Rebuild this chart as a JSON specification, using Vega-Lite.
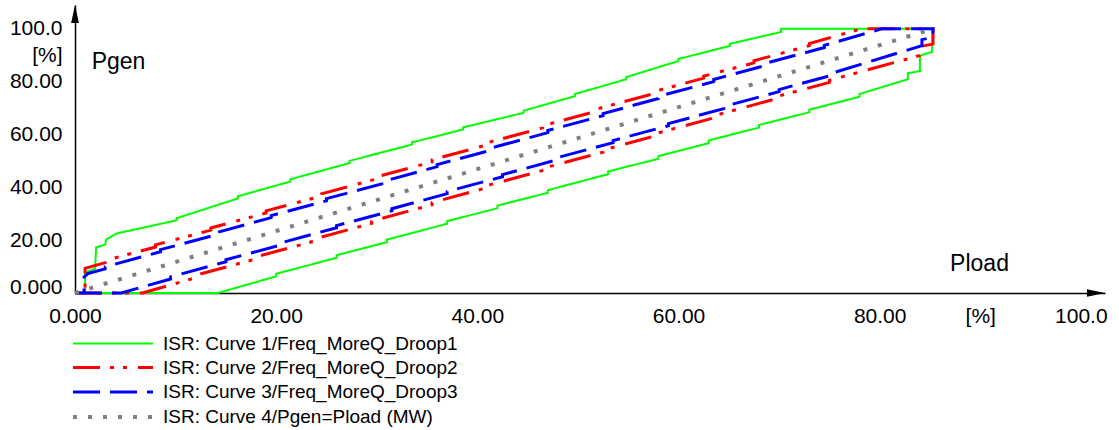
{
  "$schema": "https://vega.github.io/schema/vega-lite/v6.json",
  "width": 1030,
  "height": 288,
  "autosize": {"type": "none"},
  "padding": {"left": 75, "top": 5, "right": 14, "bottom": 137},
  "background": "white",
  "config": {
    "view": {"stroke": null},
    "font": "Liberation Sans, Arial, sans-serif"
  },
  "layer": [
    {
      "data": {
        "values": [
          {"curve": "ISR: Curve 1/Freq_MoreQ_Droop1", "o": 1, "x": 0, "y": 0},
          {"curve": "ISR: Curve 1/Freq_MoreQ_Droop1", "o": 2, "x": 14.2, "y": 0},
          {"curve": "ISR: Curve 1/Freq_MoreQ_Droop1", "o": 3, "x": 20, "y": 6.3},
          {"curve": "ISR: Curve 1/Freq_MoreQ_Droop1", "o": 4, "x": 20, "y": 7.3},
          {"curve": "ISR: Curve 1/Freq_MoreQ_Droop1", "o": 5, "x": 26, "y": 13.3},
          {"curve": "ISR: Curve 1/Freq_MoreQ_Droop1", "o": 6, "x": 26, "y": 14.3},
          {"curve": "ISR: Curve 1/Freq_MoreQ_Droop1", "o": 7, "x": 31, "y": 19.2},
          {"curve": "ISR: Curve 1/Freq_MoreQ_Droop1", "o": 8, "x": 31, "y": 20.2},
          {"curve": "ISR: Curve 1/Freq_MoreQ_Droop1", "o": 9, "x": 37, "y": 26.2},
          {"curve": "ISR: Curve 1/Freq_MoreQ_Droop1", "o": 10, "x": 37, "y": 27.2},
          {"curve": "ISR: Curve 1/Freq_MoreQ_Droop1", "o": 11, "x": 42, "y": 32.1},
          {"curve": "ISR: Curve 1/Freq_MoreQ_Droop1", "o": 12, "x": 42, "y": 33.1},
          {"curve": "ISR: Curve 1/Freq_MoreQ_Droop1", "o": 13, "x": 47, "y": 37.9},
          {"curve": "ISR: Curve 1/Freq_MoreQ_Droop1", "o": 14, "x": 47, "y": 38.9},
          {"curve": "ISR: Curve 1/Freq_MoreQ_Droop1", "o": 15, "x": 53, "y": 45.0},
          {"curve": "ISR: Curve 1/Freq_MoreQ_Droop1", "o": 16, "x": 53, "y": 46.0},
          {"curve": "ISR: Curve 1/Freq_MoreQ_Droop1", "o": 17, "x": 58, "y": 50.8},
          {"curve": "ISR: Curve 1/Freq_MoreQ_Droop1", "o": 18, "x": 58, "y": 51.8},
          {"curve": "ISR: Curve 1/Freq_MoreQ_Droop1", "o": 19, "x": 63, "y": 56.7},
          {"curve": "ISR: Curve 1/Freq_MoreQ_Droop1", "o": 20, "x": 63, "y": 57.7},
          {"curve": "ISR: Curve 1/Freq_MoreQ_Droop1", "o": 21, "x": 68, "y": 62.6},
          {"curve": "ISR: Curve 1/Freq_MoreQ_Droop1", "o": 22, "x": 68, "y": 63.6},
          {"curve": "ISR: Curve 1/Freq_MoreQ_Droop1", "o": 23, "x": 73, "y": 68.4},
          {"curve": "ISR: Curve 1/Freq_MoreQ_Droop1", "o": 24, "x": 73, "y": 69.4},
          {"curve": "ISR: Curve 1/Freq_MoreQ_Droop1", "o": 25, "x": 78, "y": 74.3},
          {"curve": "ISR: Curve 1/Freq_MoreQ_Droop1", "o": 26, "x": 78, "y": 75.3},
          {"curve": "ISR: Curve 1/Freq_MoreQ_Droop1", "o": 27, "x": 82.8, "y": 80.9},
          {"curve": "ISR: Curve 1/Freq_MoreQ_Droop1", "o": 28, "x": 82.8, "y": 83.2},
          {"curve": "ISR: Curve 1/Freq_MoreQ_Droop1", "o": 29, "x": 84.0, "y": 84.0},
          {"curve": "ISR: Curve 1/Freq_MoreQ_Droop1", "o": 30, "x": 84.0, "y": 89.8},
          {"curve": "ISR: Curve 1/Freq_MoreQ_Droop1", "o": 31, "x": 85.2, "y": 91.3},
          {"curve": "ISR: Curve 1/Freq_MoreQ_Droop1", "o": 32, "x": 85.3, "y": 100},
          {"curve": "ISR: Curve 1/Freq_MoreQ_Droop1", "o": 33, "x": 70.2, "y": 100},
          {"curve": "ISR: Curve 1/Freq_MoreQ_Droop1", "o": 34, "x": 70.2, "y": 98.8},
          {"curve": "ISR: Curve 1/Freq_MoreQ_Droop1", "o": 35, "x": 65.1, "y": 94.3},
          {"curve": "ISR: Curve 1/Freq_MoreQ_Droop1", "o": 36, "x": 65.1, "y": 93.5},
          {"curve": "ISR: Curve 1/Freq_MoreQ_Droop1", "o": 37, "x": 60, "y": 88.6},
          {"curve": "ISR: Curve 1/Freq_MoreQ_Droop1", "o": 38, "x": 60, "y": 87.8},
          {"curve": "ISR: Curve 1/Freq_MoreQ_Droop1", "o": 39, "x": 54.8, "y": 81.7},
          {"curve": "ISR: Curve 1/Freq_MoreQ_Droop1", "o": 40, "x": 54.8, "y": 80.9},
          {"curve": "ISR: Curve 1/Freq_MoreQ_Droop1", "o": 41, "x": 49.7, "y": 75.3},
          {"curve": "ISR: Curve 1/Freq_MoreQ_Droop1", "o": 42, "x": 49.7, "y": 74.5},
          {"curve": "ISR: Curve 1/Freq_MoreQ_Droop1", "o": 43, "x": 44.6, "y": 69.0},
          {"curve": "ISR: Curve 1/Freq_MoreQ_Droop1", "o": 44, "x": 44.6, "y": 68.2},
          {"curve": "ISR: Curve 1/Freq_MoreQ_Droop1", "o": 45, "x": 38.6, "y": 62.7},
          {"curve": "ISR: Curve 1/Freq_MoreQ_Droop1", "o": 46, "x": 38.6, "y": 61.9},
          {"curve": "ISR: Curve 1/Freq_MoreQ_Droop1", "o": 47, "x": 33.5, "y": 57.0},
          {"curve": "ISR: Curve 1/Freq_MoreQ_Droop1", "o": 48, "x": 33.5, "y": 56.2},
          {"curve": "ISR: Curve 1/Freq_MoreQ_Droop1", "o": 49, "x": 27.3, "y": 50.0},
          {"curve": "ISR: Curve 1/Freq_MoreQ_Droop1", "o": 50, "x": 27.3, "y": 49.2},
          {"curve": "ISR: Curve 1/Freq_MoreQ_Droop1", "o": 51, "x": 21.4, "y": 43.0},
          {"curve": "ISR: Curve 1/Freq_MoreQ_Droop1", "o": 52, "x": 21.4, "y": 42.2},
          {"curve": "ISR: Curve 1/Freq_MoreQ_Droop1", "o": 53, "x": 16.2, "y": 36.6},
          {"curve": "ISR: Curve 1/Freq_MoreQ_Droop1", "o": 54, "x": 16.2, "y": 35.8},
          {"curve": "ISR: Curve 1/Freq_MoreQ_Droop1", "o": 55, "x": 10.1, "y": 28.3},
          {"curve": "ISR: Curve 1/Freq_MoreQ_Droop1", "o": 56, "x": 10.1, "y": 27.5},
          {"curve": "ISR: Curve 1/Freq_MoreQ_Droop1", "o": 57, "x": 4.1, "y": 22.5},
          {"curve": "ISR: Curve 1/Freq_MoreQ_Droop1", "o": 58, "x": 3.1, "y": 20.2},
          {"curve": "ISR: Curve 1/Freq_MoreQ_Droop1", "o": 59, "x": 3.0, "y": 18.3},
          {"curve": "ISR: Curve 1/Freq_MoreQ_Droop1", "o": 60, "x": 2.1, "y": 17.3},
          {"curve": "ISR: Curve 1/Freq_MoreQ_Droop1", "o": 61, "x": 2.0, "y": 9.2},
          {"curve": "ISR: Curve 1/Freq_MoreQ_Droop1", "o": 62, "x": 1.0, "y": 7.8},
          {"curve": "ISR: Curve 1/Freq_MoreQ_Droop1", "o": 63, "x": 1.0, "y": 0},
          {"curve": "ISR: Curve 1/Freq_MoreQ_Droop1", "o": 64, "x": 0, "y": 0},

          {"curve": "ISR: Curve 2/Freq_MoreQ_Droop2", "o": 1, "x": 0, "y": 0},
          {"curve": "ISR: Curve 2/Freq_MoreQ_Droop2", "o": 2, "x": 6.7, "y": 0},
          {"curve": "ISR: Curve 2/Freq_MoreQ_Droop2", "o": 3, "x": 12, "y": 5.8},
          {"curve": "ISR: Curve 2/Freq_MoreQ_Droop2", "o": 4, "x": 12, "y": 6.7},
          {"curve": "ISR: Curve 2/Freq_MoreQ_Droop2", "o": 5, "x": 18, "y": 12.9},
          {"curve": "ISR: Curve 2/Freq_MoreQ_Droop2", "o": 6, "x": 18, "y": 13.7},
          {"curve": "ISR: Curve 2/Freq_MoreQ_Droop2", "o": 7, "x": 23.5, "y": 19.3},
          {"curve": "ISR: Curve 2/Freq_MoreQ_Droop2", "o": 8, "x": 23.5, "y": 20.1},
          {"curve": "ISR: Curve 2/Freq_MoreQ_Droop2", "o": 9, "x": 29.5, "y": 26.4},
          {"curve": "ISR: Curve 2/Freq_MoreQ_Droop2", "o": 10, "x": 29.5, "y": 27.2},
          {"curve": "ISR: Curve 2/Freq_MoreQ_Droop2", "o": 11, "x": 35.5, "y": 33.4},
          {"curve": "ISR: Curve 2/Freq_MoreQ_Droop2", "o": 12, "x": 35.5, "y": 34.2},
          {"curve": "ISR: Curve 2/Freq_MoreQ_Droop2", "o": 13, "x": 41, "y": 39.9},
          {"curve": "ISR: Curve 2/Freq_MoreQ_Droop2", "o": 14, "x": 41, "y": 40.7},
          {"curve": "ISR: Curve 2/Freq_MoreQ_Droop2", "o": 15, "x": 47, "y": 46.9},
          {"curve": "ISR: Curve 2/Freq_MoreQ_Droop2", "o": 16, "x": 47, "y": 47.7},
          {"curve": "ISR: Curve 2/Freq_MoreQ_Droop2", "o": 17, "x": 52.5, "y": 53.3},
          {"curve": "ISR: Curve 2/Freq_MoreQ_Droop2", "o": 18, "x": 52.5, "y": 54.1},
          {"curve": "ISR: Curve 2/Freq_MoreQ_Droop2", "o": 19, "x": 58, "y": 59.8},
          {"curve": "ISR: Curve 2/Freq_MoreQ_Droop2", "o": 20, "x": 58, "y": 60.6},
          {"curve": "ISR: Curve 2/Freq_MoreQ_Droop2", "o": 21, "x": 64, "y": 66.8},
          {"curve": "ISR: Curve 2/Freq_MoreQ_Droop2", "o": 22, "x": 64, "y": 67.6},
          {"curve": "ISR: Curve 2/Freq_MoreQ_Droop2", "o": 23, "x": 69.5, "y": 73.3},
          {"curve": "ISR: Curve 2/Freq_MoreQ_Droop2", "o": 24, "x": 69.5, "y": 74.1},
          {"curve": "ISR: Curve 2/Freq_MoreQ_Droop2", "o": 25, "x": 75, "y": 79.7},
          {"curve": "ISR: Curve 2/Freq_MoreQ_Droop2", "o": 26, "x": 75, "y": 80.5},
          {"curve": "ISR: Curve 2/Freq_MoreQ_Droop2", "o": 27, "x": 84.0, "y": 89.9},
          {"curve": "ISR: Curve 2/Freq_MoreQ_Droop2", "o": 28, "x": 84.0, "y": 93.3},
          {"curve": "ISR: Curve 2/Freq_MoreQ_Droop2", "o": 29, "x": 85.3, "y": 94.2},
          {"curve": "ISR: Curve 2/Freq_MoreQ_Droop2", "o": 30, "x": 85.3, "y": 100},
          {"curve": "ISR: Curve 2/Freq_MoreQ_Droop2", "o": 31, "x": 78.2, "y": 100},
          {"curve": "ISR: Curve 2/Freq_MoreQ_Droop2", "o": 32, "x": 73, "y": 94.4},
          {"curve": "ISR: Curve 2/Freq_MoreQ_Droop2", "o": 33, "x": 73, "y": 93.6},
          {"curve": "ISR: Curve 2/Freq_MoreQ_Droop2", "o": 34, "x": 67.5, "y": 87.9},
          {"curve": "ISR: Curve 2/Freq_MoreQ_Droop2", "o": 35, "x": 67.5, "y": 87.1},
          {"curve": "ISR: Curve 2/Freq_MoreQ_Droop2", "o": 36, "x": 62.5, "y": 82.1},
          {"curve": "ISR: Curve 2/Freq_MoreQ_Droop2", "o": 37, "x": 62.5, "y": 81.3},
          {"curve": "ISR: Curve 2/Freq_MoreQ_Droop2", "o": 38, "x": 57.5, "y": 76.2},
          {"curve": "ISR: Curve 2/Freq_MoreQ_Droop2", "o": 39, "x": 57.5, "y": 75.4},
          {"curve": "ISR: Curve 2/Freq_MoreQ_Droop2", "o": 40, "x": 52.2, "y": 70.0},
          {"curve": "ISR: Curve 2/Freq_MoreQ_Droop2", "o": 41, "x": 52.2, "y": 69.2},
          {"curve": "ISR: Curve 2/Freq_MoreQ_Droop2", "o": 42, "x": 46.5, "y": 63.3},
          {"curve": "ISR: Curve 2/Freq_MoreQ_Droop2", "o": 43, "x": 46.5, "y": 62.5},
          {"curve": "ISR: Curve 2/Freq_MoreQ_Droop2", "o": 44, "x": 41, "y": 56.9},
          {"curve": "ISR: Curve 2/Freq_MoreQ_Droop2", "o": 45, "x": 41, "y": 56.1},
          {"curve": "ISR: Curve 2/Freq_MoreQ_Droop2", "o": 46, "x": 35.5, "y": 50.4},
          {"curve": "ISR: Curve 2/Freq_MoreQ_Droop2", "o": 47, "x": 35.5, "y": 49.6},
          {"curve": "ISR: Curve 2/Freq_MoreQ_Droop2", "o": 48, "x": 30, "y": 44.0},
          {"curve": "ISR: Curve 2/Freq_MoreQ_Droop2", "o": 49, "x": 30, "y": 43.2},
          {"curve": "ISR: Curve 2/Freq_MoreQ_Droop2", "o": 50, "x": 24.5, "y": 37.5},
          {"curve": "ISR: Curve 2/Freq_MoreQ_Droop2", "o": 51, "x": 24.5, "y": 36.7},
          {"curve": "ISR: Curve 2/Freq_MoreQ_Droop2", "o": 52, "x": 19, "y": 31.1},
          {"curve": "ISR: Curve 2/Freq_MoreQ_Droop2", "o": 53, "x": 19, "y": 30.3},
          {"curve": "ISR: Curve 2/Freq_MoreQ_Droop2", "o": 54, "x": 13.5, "y": 24.6},
          {"curve": "ISR: Curve 2/Freq_MoreQ_Droop2", "o": 55, "x": 13.5, "y": 23.8},
          {"curve": "ISR: Curve 2/Freq_MoreQ_Droop2", "o": 56, "x": 8, "y": 18.2},
          {"curve": "ISR: Curve 2/Freq_MoreQ_Droop2", "o": 57, "x": 8, "y": 17.4},
          {"curve": "ISR: Curve 2/Freq_MoreQ_Droop2", "o": 58, "x": 3, "y": 12.3},
          {"curve": "ISR: Curve 2/Freq_MoreQ_Droop2", "o": 59, "x": 3, "y": 11.5},
          {"curve": "ISR: Curve 2/Freq_MoreQ_Droop2", "o": 60, "x": 1.0, "y": 9.3},
          {"curve": "ISR: Curve 2/Freq_MoreQ_Droop2", "o": 61, "x": 1.0, "y": 0},
          {"curve": "ISR: Curve 2/Freq_MoreQ_Droop2", "o": 62, "x": 0, "y": 0},

          {"curve": "ISR: Curve 3/Freq_MoreQ_Droop3", "o": 1, "x": 0, "y": 0},
          {"curve": "ISR: Curve 3/Freq_MoreQ_Droop3", "o": 2, "x": 4.6, "y": 0},
          {"curve": "ISR: Curve 3/Freq_MoreQ_Droop3", "o": 3, "x": 9.5, "y": 5.3},
          {"curve": "ISR: Curve 3/Freq_MoreQ_Droop3", "o": 4, "x": 9.5, "y": 6.1},
          {"curve": "ISR: Curve 3/Freq_MoreQ_Droop3", "o": 5, "x": 15, "y": 11.8},
          {"curve": "ISR: Curve 3/Freq_MoreQ_Droop3", "o": 6, "x": 15, "y": 12.6},
          {"curve": "ISR: Curve 3/Freq_MoreQ_Droop3", "o": 7, "x": 20.5, "y": 18.2},
          {"curve": "ISR: Curve 3/Freq_MoreQ_Droop3", "o": 8, "x": 20.5, "y": 19.0},
          {"curve": "ISR: Curve 3/Freq_MoreQ_Droop3", "o": 9, "x": 26, "y": 24.7},
          {"curve": "ISR: Curve 3/Freq_MoreQ_Droop3", "o": 10, "x": 26, "y": 25.5},
          {"curve": "ISR: Curve 3/Freq_MoreQ_Droop3", "o": 11, "x": 31.5, "y": 31.1},
          {"curve": "ISR: Curve 3/Freq_MoreQ_Droop3", "o": 12, "x": 31.5, "y": 31.9},
          {"curve": "ISR: Curve 3/Freq_MoreQ_Droop3", "o": 13, "x": 37, "y": 37.6},
          {"curve": "ISR: Curve 3/Freq_MoreQ_Droop3", "o": 14, "x": 37, "y": 38.4},
          {"curve": "ISR: Curve 3/Freq_MoreQ_Droop3", "o": 15, "x": 42.5, "y": 44.0},
          {"curve": "ISR: Curve 3/Freq_MoreQ_Droop3", "o": 16, "x": 42.5, "y": 44.8},
          {"curve": "ISR: Curve 3/Freq_MoreQ_Droop3", "o": 17, "x": 48, "y": 50.5},
          {"curve": "ISR: Curve 3/Freq_MoreQ_Droop3", "o": 18, "x": 48, "y": 51.3},
          {"curve": "ISR: Curve 3/Freq_MoreQ_Droop3", "o": 19, "x": 53.5, "y": 56.9},
          {"curve": "ISR: Curve 3/Freq_MoreQ_Droop3", "o": 20, "x": 53.5, "y": 57.7},
          {"curve": "ISR: Curve 3/Freq_MoreQ_Droop3", "o": 21, "x": 59, "y": 63.3},
          {"curve": "ISR: Curve 3/Freq_MoreQ_Droop3", "o": 22, "x": 59, "y": 64.1},
          {"curve": "ISR: Curve 3/Freq_MoreQ_Droop3", "o": 23, "x": 64.5, "y": 69.8},
          {"curve": "ISR: Curve 3/Freq_MoreQ_Droop3", "o": 24, "x": 64.5, "y": 70.6},
          {"curve": "ISR: Curve 3/Freq_MoreQ_Droop3", "o": 25, "x": 70, "y": 76.2},
          {"curve": "ISR: Curve 3/Freq_MoreQ_Droop3", "o": 26, "x": 70, "y": 77.0},
          {"curve": "ISR: Curve 3/Freq_MoreQ_Droop3", "o": 27, "x": 75.5, "y": 82.7},
          {"curve": "ISR: Curve 3/Freq_MoreQ_Droop3", "o": 28, "x": 75.5, "y": 83.5},
          {"curve": "ISR: Curve 3/Freq_MoreQ_Droop3", "o": 29, "x": 84.2, "y": 93.6},
          {"curve": "ISR: Curve 3/Freq_MoreQ_Droop3", "o": 30, "x": 84.2, "y": 95.9},
          {"curve": "ISR: Curve 3/Freq_MoreQ_Droop3", "o": 31, "x": 85.3, "y": 96.8},
          {"curve": "ISR: Curve 3/Freq_MoreQ_Droop3", "o": 32, "x": 85.3, "y": 100},
          {"curve": "ISR: Curve 3/Freq_MoreQ_Droop3", "o": 33, "x": 80.2, "y": 100},
          {"curve": "ISR: Curve 3/Freq_MoreQ_Droop3", "o": 34, "x": 74.5, "y": 93.7},
          {"curve": "ISR: Curve 3/Freq_MoreQ_Droop3", "o": 35, "x": 74.5, "y": 92.9},
          {"curve": "ISR: Curve 3/Freq_MoreQ_Droop3", "o": 36, "x": 69, "y": 87.3},
          {"curve": "ISR: Curve 3/Freq_MoreQ_Droop3", "o": 37, "x": 69, "y": 86.5},
          {"curve": "ISR: Curve 3/Freq_MoreQ_Droop3", "o": 38, "x": 63.5, "y": 80.8},
          {"curve": "ISR: Curve 3/Freq_MoreQ_Droop3", "o": 39, "x": 63.5, "y": 80.0},
          {"curve": "ISR: Curve 3/Freq_MoreQ_Droop3", "o": 40, "x": 58, "y": 74.4},
          {"curve": "ISR: Curve 3/Freq_MoreQ_Droop3", "o": 41, "x": 58, "y": 73.6},
          {"curve": "ISR: Curve 3/Freq_MoreQ_Droop3", "o": 42, "x": 52.5, "y": 67.9},
          {"curve": "ISR: Curve 3/Freq_MoreQ_Droop3", "o": 43, "x": 52.5, "y": 67.1},
          {"curve": "ISR: Curve 3/Freq_MoreQ_Droop3", "o": 44, "x": 47, "y": 61.5},
          {"curve": "ISR: Curve 3/Freq_MoreQ_Droop3", "o": 45, "x": 47, "y": 60.7},
          {"curve": "ISR: Curve 3/Freq_MoreQ_Droop3", "o": 46, "x": 41.5, "y": 55.0},
          {"curve": "ISR: Curve 3/Freq_MoreQ_Droop3", "o": 47, "x": 41.5, "y": 54.2},
          {"curve": "ISR: Curve 3/Freq_MoreQ_Droop3", "o": 48, "x": 36, "y": 48.6},
          {"curve": "ISR: Curve 3/Freq_MoreQ_Droop3", "o": 49, "x": 36, "y": 47.8},
          {"curve": "ISR: Curve 3/Freq_MoreQ_Droop3", "o": 50, "x": 30.5, "y": 42.1},
          {"curve": "ISR: Curve 3/Freq_MoreQ_Droop3", "o": 51, "x": 30.5, "y": 41.3},
          {"curve": "ISR: Curve 3/Freq_MoreQ_Droop3", "o": 52, "x": 25, "y": 35.7},
          {"curve": "ISR: Curve 3/Freq_MoreQ_Droop3", "o": 53, "x": 25, "y": 34.9},
          {"curve": "ISR: Curve 3/Freq_MoreQ_Droop3", "o": 54, "x": 19.5, "y": 29.3},
          {"curve": "ISR: Curve 3/Freq_MoreQ_Droop3", "o": 55, "x": 19.5, "y": 28.5},
          {"curve": "ISR: Curve 3/Freq_MoreQ_Droop3", "o": 56, "x": 14, "y": 22.8},
          {"curve": "ISR: Curve 3/Freq_MoreQ_Droop3", "o": 57, "x": 14, "y": 22.0},
          {"curve": "ISR: Curve 3/Freq_MoreQ_Droop3", "o": 58, "x": 8.5, "y": 16.4},
          {"curve": "ISR: Curve 3/Freq_MoreQ_Droop3", "o": 59, "x": 8.5, "y": 15.6},
          {"curve": "ISR: Curve 3/Freq_MoreQ_Droop3", "o": 60, "x": 3, "y": 9.9},
          {"curve": "ISR: Curve 3/Freq_MoreQ_Droop3", "o": 61, "x": 3, "y": 9.1},
          {"curve": "ISR: Curve 3/Freq_MoreQ_Droop3", "o": 62, "x": 1.3, "y": 7.4},
          {"curve": "ISR: Curve 3/Freq_MoreQ_Droop3", "o": 63, "x": 0.9, "y": 6.0},
          {"curve": "ISR: Curve 3/Freq_MoreQ_Droop3", "o": 64, "x": 0.9, "y": 0},
          {"curve": "ISR: Curve 3/Freq_MoreQ_Droop3", "o": 65, "x": 0, "y": 0},

          {"curve": "ISR: Curve 4/Pgen=Pload (MW)", "o": 1, "x": 0, "y": 0},
          {"curve": "ISR: Curve 4/Pgen=Pload (MW)", "o": 2, "x": 85.3, "y": 100}
        ]
      },
      "mark": {"type": "line", "strokeCap": "butt", "strokeJoin": "miter", "clip": false},
      "encoding": {
        "x": {
          "field": "x", "type": "quantitative",
          "scale": {"domain": [0, 102.4], "nice": false, "zero": false},
          "axis": {
            "values": [0, 20, 40, 60, 80, 90, 100],
            "labelExpr": "datum.value==0?'0.000':datum.value==100?'100.0':datum.value==90?'[%]':format(datum.value,'.2f')",
            "title": null, "ticks": false, "grid": false,
            "domainColor": "black", "domainWidth": 1.5,
            "labelFontSize": 21, "labelColor": "black", "labelPadding": 12,
            "labelFlush": false, "labelOverlap": false,
            "labelFont": "Liberation Sans, Arial, sans-serif"
          }
        },
        "y": {
          "field": "y", "type": "quantitative",
          "scale": {"domain": [0, 109], "nice": false, "zero": false},
          "axis": {
            "values": [0, 20, 40, 60, 80, 90, 100],
            "labelExpr": "datum.value==0?'0.000':datum.value==100?'100.0':datum.value==90?'[%]':format(datum.value,'.2f')",
            "title": null, "ticks": false, "grid": false,
            "domainColor": "black", "domainWidth": 1.5,
            "labelFontSize": 21, "labelColor": "black", "labelPadding": 13,
            "labelFlush": false, "labelOverlap": false,
            "labelBaseline": {"condition": {"test": "datum.value == 0", "value": "alphabetic"}, "value": "middle"},
            "labelFont": "Liberation Sans, Arial, sans-serif"
          }
        },
        "order": {"field": "o", "type": "quantitative"},
        "color": {
          "field": "curve", "type": "nominal",
          "scale": {
            "domain": ["ISR: Curve 1/Freq_MoreQ_Droop1", "ISR: Curve 2/Freq_MoreQ_Droop2", "ISR: Curve 3/Freq_MoreQ_Droop3", "ISR: Curve 4/Pgen=Pload (MW)"],
            "range": ["#00ff00", "#ff0000", "#0000ff", "#808080"]
          },
          "legend": {
            "orient": "none", "legendX": -14, "legendY": 327.5,
            "title": null, "padding": 0,
            "symbolType": "M0,0H8", "symbolSize": 400,
            "labelFontSize": 19, "labelOffset": 78, "labelLimit": 0,
            "labelColor": "black", "labelFont": "Liberation Sans, Arial, sans-serif",
            "rowPadding": 2.5
          }
        },
        "strokeDash": {
          "field": "curve", "type": "nominal",
          "scale": {
            "domain": ["ISR: Curve 1/Freq_MoreQ_Droop1", "ISR: Curve 2/Freq_MoreQ_Droop2", "ISR: Curve 3/Freq_MoreQ_Droop3", "ISR: Curve 4/Pgen=Pload (MW)"],
            "range": [[1, 0], [27, 10, 4, 9, 4, 11], [27, 10], [4, 11]]
          }
        },
        "strokeWidth": {
          "field": "curve", "type": "nominal",
          "scale": {
            "type": "ordinal",
            "domain": ["ISR: Curve 1/Freq_MoreQ_Droop1", "ISR: Curve 2/Freq_MoreQ_Droop2", "ISR: Curve 3/Freq_MoreQ_Droop3", "ISR: Curve 4/Pgen=Pload (MW)"],
            "range": [2, 3, 3, 4]
          }
        }
      }
    },
    {
      "data": {"values": [{}]},
      "mark": {"type": "point", "shape": "M0,0L-0.43,2L0.43,2Z", "filled": true, "color": "black", "opacity": 1, "size": 324, "clip": false},
      "encoding": {
        "x": {"datum": 0, "type": "quantitative"},
        "y": {"datum": 109, "type": "quantitative"}
      }
    },
    {
      "data": {"values": [{}]},
      "mark": {"type": "point", "shape": "M0,0L-2,-0.43L-2,0.43Z", "filled": true, "color": "black", "opacity": 1, "size": 324, "clip": false},
      "encoding": {
        "x": {"datum": 102.4, "type": "quantitative"},
        "y": {"datum": 0, "type": "quantitative"}
      }
    },
    {
      "data": {"values": [{}]},
      "mark": {"type": "text", "text": "Pgen", "align": "left", "baseline": "middle", "fontSize": 23, "color": "black", "font": "Liberation Sans, Arial, sans-serif"},
      "encoding": {
        "x": {"datum": 1.66, "type": "quantitative"},
        "y": {"datum": 87.4, "type": "quantitative"}
      }
    },
    {
      "data": {"values": [{}]},
      "mark": {"type": "text", "text": "Pload", "align": "left", "baseline": "middle", "fontSize": 23, "color": "black", "font": "Liberation Sans, Arial, sans-serif"},
      "encoding": {
        "x": {"datum": 87.0, "type": "quantitative"},
        "y": {"datum": 10.95, "type": "quantitative"}
      }
    }
  ]
}
